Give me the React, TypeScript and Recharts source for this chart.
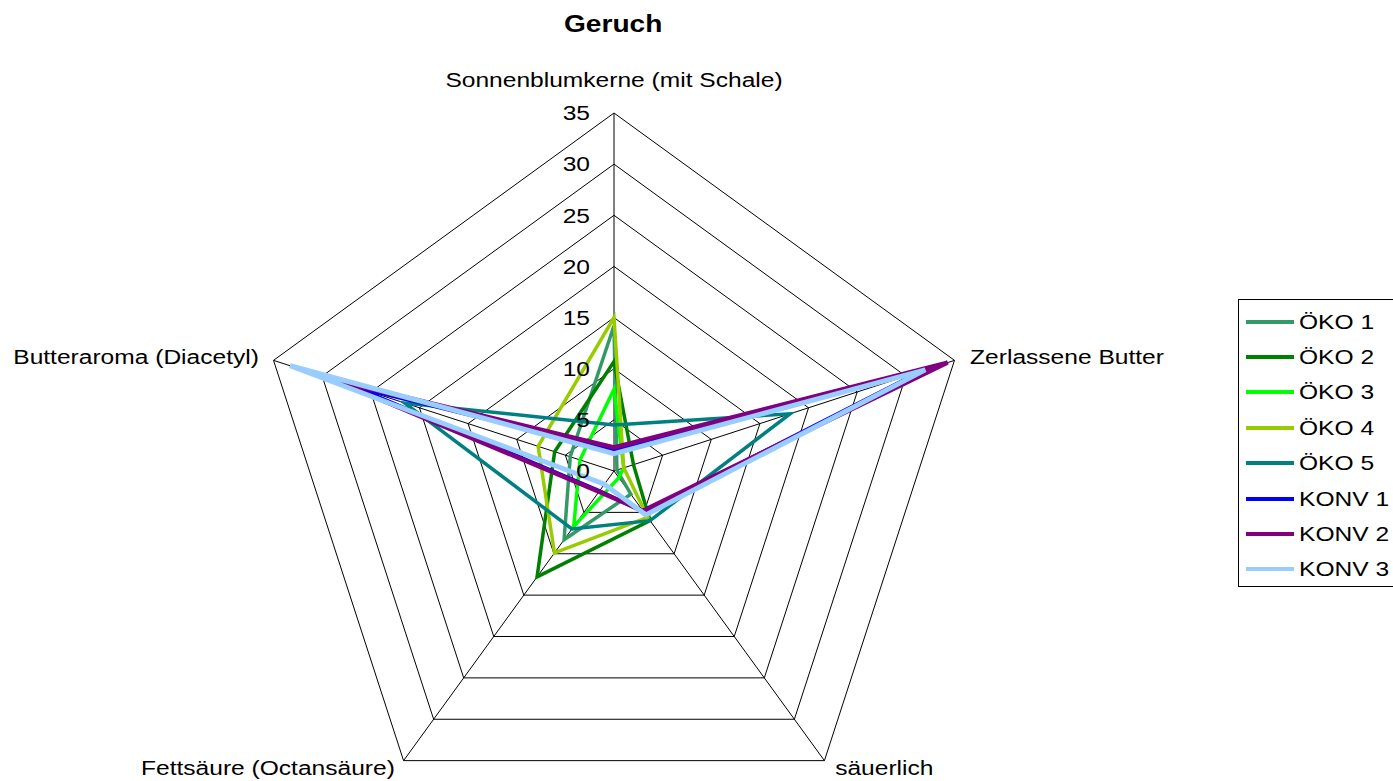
import React from "react";
import { RadarChart, Radar, PolarGrid, PolarAngleAxis, PolarRadiusAxis, Legend } from "recharts";

const categories = [
  "Sonnenblumkerne (mit Schale)",
  "Zerlassene Butter",
  "säuerlich",
  "Fettsäure (Octansäure)",
  "Butteraroma (Diacetyl)",
];

const oko1 = [14.2, 0.3, 2.8, 8.3, 4.5];
const oko2 = [10.7, 2.0, 6.0, 12.8, 6.1];
const oko3 = [8.0, 1.0, 0.8, 6.7, 3.5];
const oko4 = [15.0, 1.0, 5.6, 9.9, 7.8];
const oko5 = [4.5, 18.1, 6.0, 7.0, 21.5];
const konv1 = [2.0, 31.5, 5.0, 2.4, 26.5];
const konv2 = [2.3, 34.3, 4.8, 2.5, 28.8];
const konv3 = [1.7, 32.0, 5.3, 1.6, 33.3];

const radiusTicks = [0, 5, 10, 15, 20, 25, 30, 35];

const seriesList = [
  { key: "oko1", name: "ÖKO 1", values: oko1, color: "#339966", width: 3.5 },
  { key: "oko2", name: "ÖKO 2", values: oko2, color: "#008000", width: 3.5 },
  { key: "oko3", name: "ÖKO 3", values: oko3, color: "#00FF00", width: 3.5 },
  { key: "oko4", name: "ÖKO 4", values: oko4, color: "#99CC00", width: 3.5 },
  { key: "oko5", name: "ÖKO 5", values: oko5, color: "#008080", width: 3.5 },
  { key: "konv1", name: "KONV 1", values: konv1, color: "#0000FF", width: 3.5 },
  { key: "konv2", name: "KONV 2", values: konv2, color: "#800080", width: 4.5 },
  { key: "konv3", name: "KONV 3", values: konv3, color: "#99CCFF", width: 5 },
];

const data = categories.map((name, i) => {
  const row: Record<string, any> = { name };
  seriesList.forEach((s) => {
    row[s.key] = s.values[i];
  });
  return row;
});

const FONT = "'Liberation Sans', Arial, sans-serif";
const SX = 1.17;

const labelStyles = [
  { dx: 0, dy: -25, anchor: "middle" },
  { dx: 8, dy: -1, anchor: "start" },
  { dx: 6, dy: 1, anchor: "start" },
  { dx: -4, dy: 1, anchor: "end" },
  { dx: -7, dy: -1, anchor: "end" },
];

const AngleTick = (props: any) => {
  const { x, y, payload, index } = props;
  const idx = typeof index === "number" ? index : categories.indexOf(payload.value);
  const st = labelStyles[idx] || labelStyles[0];
  const tx = x + st.dx;
  const ty = y + st.dy;
  return (
    <g transform={`translate(${tx},${ty}) scale(${SX},1)`}>
      <text x={0} y={0} textAnchor={st.anchor as any} dominantBaseline="central" fontSize={21} fontFamily={FONT} fill="#000">
        {payload.value}
      </text>
    </g>
  );
};

const RadiusTick = (props: any) => {
  const { x, y, payload } = props;
  return (
    <g transform={`translate(${x - 24},${y}) scale(${SX},1)`}>
      <text x={0} y={0} textAnchor="end" dominantBaseline="central" fontSize={21} fontFamily={FONT} fill="#000">
        {payload.value}
      </text>
    </g>
  );
};

const LegendBox = (props: any) => {
  const payload: any[] = props.payload || [];
  const ordered = seriesList
    .map((s) => payload.find((p: any) => p.value === s.name || p.dataKey === s.key))
    .filter(Boolean);
  return (
    <div
      style={{
        border: "1px solid #000",
        width: 160,
        height: 288,
        boxSizing: "border-box",
        background: "#fff",
        paddingTop: 4,
        fontFamily: FONT,
      }}
    >
      {ordered.map((p: any) => (
        <div key={p.value} style={{ height: 35.4, display: "flex", alignItems: "center", position: "relative" }}>
          <svg width={56} height={10} style={{ marginLeft: 7, display: "block" }}>
            <line x1={0} y1={5} x2={48} y2={5} stroke={p.color} strokeWidth={4} />
          </svg>
          <span
            style={{
              fontSize: 21,
              color: "#000",
              whiteSpace: "nowrap",
              display: "inline-block",
              transform: `scaleX(${SX})`,
              transformOrigin: "left center",
              marginLeft: -3,
            }}
          >
            {p.value}
          </span>
        </div>
      ))}
    </div>
  );
};

export default function App() {
  return (
    <div
      style={{
        position: "absolute",
        left: 0,
        top: 0,
        width: 1393,
        height: 781,
        overflow: "hidden",
        background: "#fff",
        fontFamily: FONT,
      }}
    >
      <div
        style={{
          position: "absolute",
          left: 0,
          width: 1226,
          top: 10,
          textAlign: "center",
          fontSize: 24,
          fontWeight: "bold",
          color: "#000",
          transform: `scaleX(${SX})`,
          transformOrigin: "612px 0px",
        }}
      >
        Geruch
      </div>
      <RadarChart
        width={1393}
        height={781}
        data={data}
        cx={614}
        cy={471}
        outerRadius={358}
        margin={{ top: 0, right: 0, bottom: 0, left: 0 }}
        startAngle={90}
        endAngle={-270}
      >
        <PolarGrid gridType="polygon" stroke="#000" strokeWidth={1} />
        <PolarAngleAxis dataKey="name" tick={<AngleTick />} tickLine={false} axisLine={false} />
        <PolarRadiusAxis
          angle={90}
          domain={[0, 35]}
          ticks={radiusTicks as any}
          tickCount={8}
          axisLine={false}
          tickLine={false}
          tick={<RadiusTick />}
        />
        {seriesList.map((s) => (
          <Radar
            key={s.key}
            dataKey={s.key}
            name={s.name}
            stroke={s.color}
            strokeWidth={s.width}
            fill="none"
            fillOpacity={0}
            dot={false}
            isAnimationActive={false}
          />
        ))}
        <Legend
          layout="vertical"
          align="right"
          verticalAlign="middle"
          itemSorter={null as any}
          content={<LegendBox />}
          wrapperStyle={{ position: "absolute", left: 1238, top: 299, width: 160, height: 288 }}
        />
      </RadarChart>
    </div>
  );
}
